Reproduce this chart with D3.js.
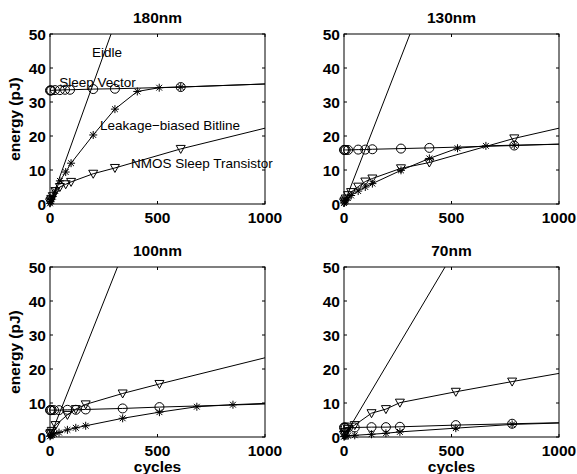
<!DOCTYPE html>
<html>
  <head>
    <meta charset="utf-8">
    <title>Energy vs cycles</title>
    <script type="text/javascript" src="https://d3js.org/d3.v7.min.js"></script>
    <style>
      body { margin: 0; background: #ffffff; }
      svg { font-family: "Liberation Sans", Arial, sans-serif; }
      .tick-label { font-size: 15.5px; font-weight: bold; }
      .axis-label { font-size: 15.5px; font-weight: bold; }
      .title { font-size: 15.5px; font-weight: bold; }
      .note { font-size: 13.5px; }
    </style>
  </head>
  <body>
    <script type="text/javascript">

      var panelTitles = ["180nm", "130nm", "100nm", "70nm"];
      var xTicks = [0, 500, 1000];
      var yTicks = [0, 10, 20, 30, 40, 50];
      var notes = ["Eidle", "Sleep Vector", "Leakage\u2212biased Bitline", "NMOS Sleep Transistor"];
      // where each note sits in the 180nm panel (cycles, pJ)
      var noteCycles = [195, 43, 233, 377];
      var noteEnergy = [43.2, 34.4, 21.8, 10.6];

      // Eidle: straight line from the origin until it leaves the top
      var eidleCycles = [[0, 284], [0, 307], [0, 314], [0, 470]];
      var eidleEnergy = [0, 50];

      // 180nm
      var sv180x = [0, 3, 6, 23, 46, 70, 93, 201, 302, 608];
      var sv180y = [33.4, 33.4, 33.4, 33.5, 33.5, 33.6, 33.6, 33.8, 33.9, 34.4];
      var lb180x = [0, 3, 6, 13, 25, 46, 73, 98, 201, 302, 406, 508, 608];
      var lb180y = [0.2, 0.8, 1.3, 2.2, 3.8, 6.8, 9.4, 12.0, 20.3, 27.9, 33.1, 34.2, 34.4];
      var ns180x = [0, 3, 6, 13, 25, 46, 73, 98, 201, 302, 608];
      var ns180y = [0.5, 1.0, 1.5, 2.3, 3.8, 5.0, 5.8, 6.5, 8.9, 10.6, 16.2];

      // 130nm
      var sv130x = [0, 3, 8, 19, 66, 99, 132, 265, 397, 792];
      var sv130y = [15.9, 15.9, 15.9, 15.9, 16.0, 16.0, 16.1, 16.3, 16.5, 17.2];
      var lb130x = [0, 3, 8, 19, 33, 66, 99, 132, 265, 397, 528, 660, 792];
      var lb130y = [0.3, 0.6, 1.0, 1.8, 2.5, 3.8, 5.0, 6.0, 9.9, 13.4, 16.4, 17.1, 17.3];
      var ns130x = [0, 3, 8, 19, 33, 66, 99, 132, 265, 397, 792];
      var ns130y = [0.5, 1.0, 1.6, 2.6, 3.5, 5.1, 6.6, 7.5, 10.5, 12.2, 19.3];

      // 100nm
      var sv100x = [0, 3, 8, 19, 42, 81, 120, 166, 338, 509];
      var sv100y = [7.9, 7.9, 7.9, 7.9, 7.9, 8.0, 8.0, 8.1, 8.4, 8.8];
      var lb100x = [0, 3, 8, 19, 42, 81, 120, 166, 338, 509, 683, 851];
      var lb100y = [0.2, 0.4, 0.6, 0.9, 1.3, 2.1, 2.7, 3.3, 5.5, 7.3, 8.9, 9.5];
      var ns100x = [0, 3, 8, 26, 81, 120, 166, 338, 509];
      var ns100y = [0.8, 1.2, 1.8, 3.5, 6.5, 8.2, 9.6, 12.8, 15.6];

      // 70nm
      var sv70x = [0, 3, 8, 19, 50, 128, 195, 260, 520, 782];
      var sv70y = [2.8, 2.8, 2.8, 2.8, 2.8, 2.9, 2.9, 3.0, 3.5, 3.9];
      var lb70x = [0, 3, 8, 19, 50, 128, 195, 260, 520, 782];
      var lb70y = [0.1, 0.2, 0.3, 0.4, 0.5, 0.8, 1.1, 1.5, 2.6, 3.7];
      var ns70x = [0, 3, 8, 19, 50, 128, 195, 260, 520, 782];
      var ns70y = [0.6, 1.0, 1.5, 2.4, 3.5, 7.0, 8.2, 10.1, 13.3, 16.3];

      // each line runs on to 1000 cycles past its last marker
      var svAt1000 = [35.3, 17.6, 9.7, 4.2];
      var lbAt1000 = [35.3, 17.6, 9.9, 4.1];
      var nsAt1000 = [22.3, 22.3, 23.3, 18.7];

      var panels = [
        {sv: [sv180x, sv180y], lb: [lb180x, lb180y], ns: [ns180x, ns180y]},
        {sv: [sv130x, sv130y], lb: [lb130x, lb130y], ns: [ns130x, ns130y]},
        {sv: [sv100x, sv100y], lb: [lb100x, lb100y], ns: [ns100x, ns100y]},
        {sv: [sv70x, sv70y], lb: [lb70x, lb70y], ns: [ns70x, ns70y]}
      ];

      var width = 577;
      var height = 474;
      var plotW = 215;
      var plotH = 170;
      var lefts = [50, 344];
      var tops = [34, 267];
      var tickLen = 3;

      var svg = d3.select("body")
            .append("svg")
            .attr("width", width)
            .attr("height", height);

      function zip(xs, ys) {
        return xs.map(function(x, i) { return [x, ys[i]]; });
      }

      panels.forEach(function(p, k) {
        var col = k % 2;
        var row = Math.floor(k / 2);
        var g = svg.append("g")
            .attr("transform", "translate(" + lefts[col] + "," + tops[row] + ")");

        var x = d3.scaleLinear().domain([0, 1000]).range([0, plotW]);
        var y = d3.scaleLinear().domain([0, 50]).range([plotH, 0]);

        g.append("clipPath").attr("id", "clip" + k)
          .append("rect").attr("width", plotW).attr("height", plotH);

        var line = d3.line()
            .x(function(d) { return x(d[0]); })
            .y(function(d) { return y(d[1]); });

        var plot = g.append("g").attr("clip-path", "url(#clip" + k + ")");

        // Eidle
        plot.append("path")
          .datum(zip(eidleCycles[k], eidleEnergy))
          .attr("d", line)
          .attr("fill", "none")
          .attr("stroke", "#000")
          .attr("stroke-width", 1);

        var ends = [svAt1000[k], lbAt1000[k], nsAt1000[k]];
        ["sv", "lb", "ns"].forEach(function(name, s) {
          var pts = zip(p[name][0], p[name][1]);
          plot.append("path")
            .datum(pts.concat([[1000, ends[s]]]))
            .attr("d", line)
            .attr("fill", "none")
            .attr("stroke", "#000")
            .attr("stroke-width", 1);

          var m = g.append("g").selectAll("g")
            .data(pts)
            .enter()
            .append("g")
            .attr("transform", function(d) { return "translate(" + x(d[0]) + "," + y(d[1]) + ")"; });

          if (name == "sv") {
            m.append("circle").attr("r", 4.5)
              .attr("fill", "none").attr("stroke", "#000").attr("stroke-width", 1);
          } else if (name == "ns") {
            m.append("path").attr("d", "M-4.5,-3.5L4.5,-3.5L0,4.5Z")
              .attr("fill", "none").attr("stroke", "#000").attr("stroke-width", 1);
          } else {
            m.append("path").attr("d", "M0,-4V4M-4,0H4M-2.9,-2.9L2.9,2.9M-2.9,2.9L2.9,-2.9")
              .attr("fill", "none").attr("stroke", "#000").attr("stroke-width", 1);
          }
        });

        // box with inward ticks on all sides
        g.append("rect")
          .attr("width", plotW).attr("height", plotH)
          .attr("fill", "none").attr("stroke", "#000").attr("stroke-width", 1);

        yTicks.forEach(function(t) {
          g.append("line").attr("x1", 0).attr("x2", tickLen)
            .attr("y1", y(t)).attr("y2", y(t)).attr("stroke", "#000");
          g.append("line").attr("x1", plotW - tickLen).attr("x2", plotW)
            .attr("y1", y(t)).attr("y2", y(t)).attr("stroke", "#000");
          g.append("text").attr("class", "tick-label")
            .attr("x", -4).attr("y", y(t) + 6)
            .attr("text-anchor", "end")
            .text(t);
        });
        xTicks.forEach(function(t) {
          g.append("line").attr("x1", x(t)).attr("x2", x(t))
            .attr("y1", plotH).attr("y2", plotH - tickLen).attr("stroke", "#000");
          g.append("line").attr("x1", x(t)).attr("x2", x(t))
            .attr("y1", 0).attr("y2", tickLen).attr("stroke", "#000");
          g.append("text").attr("class", "tick-label")
            .attr("x", x(t)).attr("y", plotH + 18.5)
            .attr("text-anchor", "middle")
            .text(t);
        });

        g.append("text").attr("class", "title")
          .attr("x", plotW / 2).attr("y", -11.5)
          .attr("text-anchor", "middle")
          .text(panelTitles[k]);

        if (col == 0) {
          g.append("text").attr("class", "axis-label")
            .attr("transform", "translate(-30," + (plotH / 2) + ") rotate(-90)")
            .attr("text-anchor", "middle")
            .text("energy (pJ)");
        }
        if (row == 1) {
          g.append("text").attr("class", "axis-label")
            .attr("x", plotW / 2).attr("y", plotH + 34.5)
            .attr("text-anchor", "middle")
            .text("cycles");
        }

        if (k == 0) {
          notes.forEach(function(n, i) {
            g.append("text").attr("class", "note")
              .attr("x", x(noteCycles[i])).attr("y", y(noteEnergy[i]))
              .text(n);
          });
        }
      });

    </script>
  </body>
</html>
